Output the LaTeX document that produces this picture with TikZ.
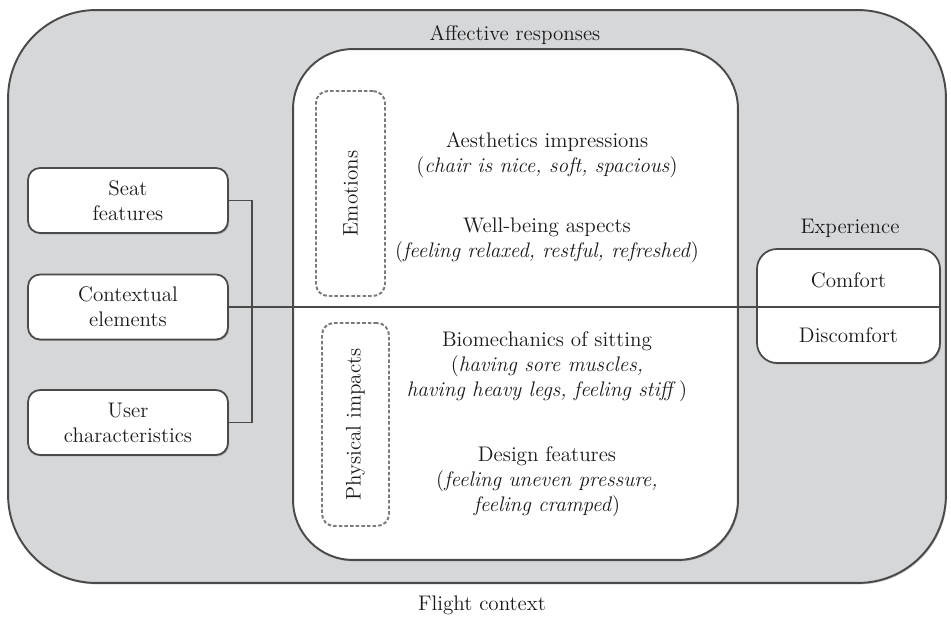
\documentclass[tikz,border=0pt]{standalone}
\usetikzlibrary{shadows}
\definecolor{ctxgray}{HTML}{D6D7D9}
\definecolor{edge}{HTML}{4A4A4A}
\definecolor{dashc}{HTML}{7A7A7A}
\definecolor{ink}{HTML}{1A1A1A}
\tikzset{
  px/.style={x=0.02cm,y=-0.02cm},
  lbl/.style={text=ink,font=\fontsize{12}{14.2}\selectfont,inner sep=0pt,align=center},
  shad/.style={drop shadow={shadow xshift=0.6pt,shadow yshift=-0.8pt,opacity=0.35,fill=black!70}},
  outerbox/.style={draw=edge,line width=1.1pt,fill=ctxgray,rounded corners=1.76cm,inner sep=0pt,shad},
  innerbox/.style={draw=edge,line width=1.1pt,fill=white,rounded corners=1.2cm,inner sep=0pt,shad},
  dashbox/.style={draw=dashc,line width=1.1pt,dash pattern=on 2pt off 1.2pt,rounded corners=0.24cm,inner sep=0pt},
  leftbox/.style={draw=edge,line width=1pt,fill=white,rounded corners=0.24cm,minimum width=4cm,minimum height=1.3cm,lbl,shad},
  conn/.style={draw=edge,line width=1pt},
}
\begin{document}
\begin{tikzpicture}[px]
\useasboundingbox (0,0) rectangle (951,617);
% outer flight context
\node[outerbox,minimum width=18.76cm,minimum height=11.46cm] (outer) at (477,296.5) {};
\node[lbl] (flight) at (482,605) {Flight context};
\node[lbl] (aff) at (515,35) {Affective responses};
% inner affective box
\node[innerbox,minimum width=8.9cm,minimum height=10.22cm] (inner) at (515.5,304.5) {};
% dashed boxes
\node[dashbox,minimum width=1.38cm,minimum height=4.1cm] (emo) at (350.5,193.5) {};
\node[lbl,rotate=90] (emot) at (emo.center) {Emotions};
\node[dashbox,minimum width=1.34cm,minimum height=4.06cm] (phys) at (355.5,424.5) {};
\node[lbl,rotate=90] (physt) at (phys.center) {Physical impacts};
% texts in inner box
\node[lbl] (aes) at (547,155.5) {Aesthetics impressions\\(\textit{chair is nice, soft, spacious})};
\node[lbl] (well) at (547,240.5) {Well-being aspects\\(\textit{feeling relaxed, restful, refreshed})};
\node[lbl] (bio) at (547,367) {Biomechanics of sitting\\(\textit{having sore muscles,}\\\textit{having heavy legs, feeling stiff}\,)};
\node[lbl] (des) at (547,482) {Design features\\(\textit{feeling uneven pressure,}\\\textit{feeling cramped})};
% left boxes
\node[leftbox] (seat) at (128,200.5) {Seat\\features};
\node[leftbox] (ctx) at (128,307) {Contextual\\elements};
\node[leftbox] (user) at (128,422.5) {User\\characteristics};
% right box
\node[draw=edge,line width=1pt,fill=white,rounded corners=0.4cm,minimum width=3.66cm,minimum height=2.28cm,inner sep=0pt,shad] (exp) at (848.5,306) {};
\node[lbl] (expt) at (850,228) {Experience};
\node[lbl] (comf) at (848.5,280) {Comfort};
\node[lbl] (disc) at (848.5,335) {Discomfort};
% connectors
\coordinate (jt) at (252,200.5);
\coordinate (jb) at (252,422.5);
\draw[conn] (seat.east) -- (jt) -- (jb) -- (user.east);
\draw[conn] (ctx.east) -- (ctx.east -| exp.east);
\end{tikzpicture}
\end{document}
